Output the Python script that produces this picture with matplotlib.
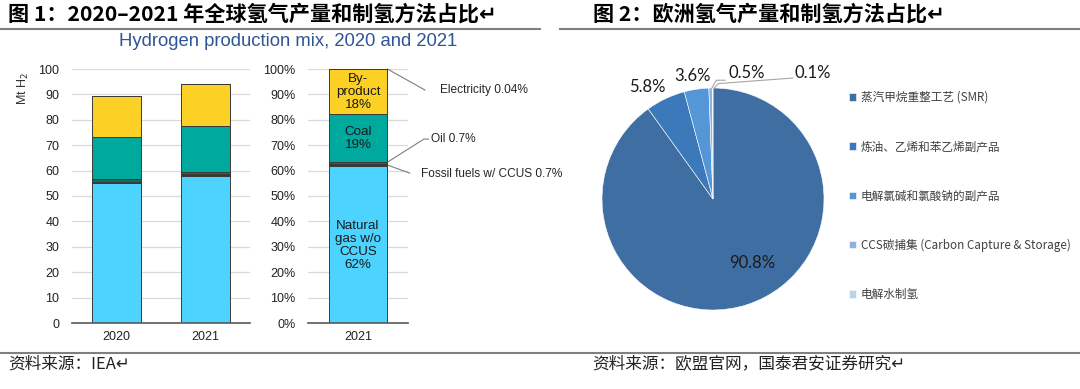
import matplotlib
matplotlib.use('Agg')
import matplotlib.pyplot as plt
import numpy as np

plt.rcParams['font.family'] = ['Liberation Sans', 'Noto Sans CJK SC', 'DejaVu Sans']

W, H = 1080, 389

# 图1 左: 全球氢气产量 (Mt H2)
years = ['2020', '2021']
natural_gas = [55.0, 58.0]
fossil_ccus = [0.7, 0.7]
oil = [0.8, 0.9]
coal = [16.8, 18.1]
by_product = [16.0, 16.5]
electricity = [0.03, 0.04]

# 图1 右: 2021 占比 (%)
share_2021 = [61.8, 0.7, 0.7, 19.0, 17.76, 0.04]

# 图2: 欧洲制氢方法占比
eu_labels = ['蒸汽甲烷重整工艺 (SMR)', '炼油、乙烯和苯乙烯副产品', '电解氯碱和氯酸钠的副产品',
             'CCS碳捕集 (Carbon Capture & Storage)', '电解水制氢']
eu_share = [90.8, 5.8, 3.6, 0.5, 0.1]
eu_text = ['90.8%', '5.8%', '3.6%', '0.5%', '0.1%']

seg_colors = ['#4CD3FF', '#203864', '#1D6B5A', '#00A99D', '#FDD026', '#111111']
pie_colors = ['#3F6EA3', '#3C79BA', '#5596D6', '#8FB3E0', '#BCD1EC']


def box(x0, y0, x1, y1):
    return [x0 / W, 1 - y1 / H, (x1 - x0) / W, (y1 - y0) / H]


fig = plt.figure(figsize=(W / 100, H / 100), dpi=100)

# 标题与分隔线
cjk = ['Noto Sans CJK SC', 'DejaVu Sans']
fig.text(8 / W, 1 - 14 / H, '图 1：2020–2021 年全球氢气产量和制氢方法占比↵', family=cjk,
         fontsize=15.2, fontweight='bold', va='center', ha='left')
fig.text(593 / W, 1 - 14 / H, '图 2：欧洲氢气产量和制氢方法占比↵', family=cjk,
         fontsize=15.2, fontweight='bold', va='center', ha='left')
fig.add_artist(plt.Line2D([0, 540 / W], [1 - 29 / H] * 2, color='#7F7F7F', lw=1.5))
fig.add_artist(plt.Line2D([560 / W, 1], [1 - 29 / H] * 2, color='#7F7F7F', lw=1.5))
fig.add_artist(plt.Line2D([0, 1], [1 - 353 / H] * 2, color='#7F7F7F', lw=1.5))
fig.text(8 / W, 1 - 364 / H, '资料来源：IEA↵', family=cjk, fontsize=12, va='center', color='#222222')
fig.text(592 / W, 1 - 364 / H, '资料来源：欧盟官网，国泰君安证券研究↵', family=cjk, fontsize=12,
         va='center', color='#222222')

fig.text(288 / W, 1 - 42 / H, 'Hydrogen production mix, 2020 and 2021', fontsize=13.3,
         color='#2F5597', ha='center', va='center')

# 左图: 产量堆叠柱
ax1 = fig.add_axes(box(72, 69, 250, 323))
stack = [natural_gas, fossil_ccus, oil, coal, by_product, electricity]
x = np.arange(len(years))
bottom = np.zeros(len(years))
for vals, c in zip(stack, seg_colors):
    ax1.bar(x, vals, 0.56, bottom=bottom, color=c, edgecolor='#3A3A3A', linewidth=0.7, zorder=3)
    bottom += np.array(vals)
ax1.set_xlim(-0.5, 1.5)
ax1.set_ylim(0, 100)
ax1.set_yticks(np.arange(0, 101, 10))
ax1.set_xticks(x)
ax1.set_xticklabels(years)
ax1.text(-0.27, 0.925, 'Mt H$_2$', transform=ax1.transAxes, rotation=90, fontsize=9,
         ha='center', va='center', color='#333333')

# 右图: 2021 占比
ax2 = fig.add_axes(box(308, 69, 408, 323))
b = 0
for v, c in zip(share_2021, seg_colors):
    ax2.bar(0, v, 1.0, bottom=b, color=c, edgecolor='#3A3A3A', linewidth=0.7, zorder=3)
    b += v
ax2.set_xlim(-0.85, 0.85)
ax2.set_ylim(0, 100)
ax2.set_yticks(np.arange(0, 101, 10))
ax2.set_yticklabels([f'{v}%' for v in range(0, 101, 10)])
ax2.set_xticks([0])
ax2.set_xticklabels(['2021'])

for ax in (ax1, ax2):
    for s in ('top', 'right', 'left'):
        ax.spines[s].set_visible(False)
    ax.spines['bottom'].set_color('#595959')
    ax.spines['bottom'].set_linewidth(1.2)
    ax.spines['bottom'].set_zorder(4)
    ax.grid(axis='y', color='#D9D9D9', lw=0.9, zorder=0)
    ax.tick_params(length=0, labelsize=9, colors='#222222')
    ax.tick_params(axis='y', pad=9)
    ax.tick_params(axis='x', pad=6)

txt = dict(ha='center', va='center', fontsize=9.6, color='#1A1A1A', linespacing=1.08, zorder=5)
ax2.text(0, 91, 'By-\nproduct\n18%', **txt)
ax2.text(0, 72.5, 'Coal\n19%', **txt)
ax2.text(0, 30.5, 'Natural\ngas w/o\nCCUS\n62%', **txt)

lc = '#7F7F7F'
ax2.plot([0.5, 1.14], [100, 91.7], color=lc, lw=0.8, clip_on=False)
ax2.text(1.39, 91.7, 'Electricity 0.04%', fontsize=8.6, va='center', color='#262626')
ax2.plot([0.5, 1.12, 1.2], [63.3, 72.4, 72.4], color=lc, lw=0.8, clip_on=False)
ax2.text(1.24, 72.4, 'Oil 0.7%', fontsize=8.6, va='center', color='#262626')
ax2.plot([0.5, 0.88], [62.2, 59.0], color=lc, lw=0.8, clip_on=False)
ax2.text(1.07, 58.6, 'Fossil fuels w/ CCUS 0.7%', fontsize=8.6, va='center', color='#262626')

# 图2: 饼图
ax3 = fig.add_axes(box(602, 88, 824, 310))
wedges, _ = ax3.pie(eu_share, colors=pie_colors, startangle=90, counterclock=False,
                    wedgeprops=dict(edgecolor='white', linewidth=0.4))
ax3.set_xlim(-1, 1)
ax3.set_ylim(-1, 1)
ax3.set_aspect('equal')
ax3.axis('off')

lab = dict(ha='center', va='center', fontsize=12, family='Lato', color='#1A1A1A')
ax3.text(0.35, -0.58, eu_text[0], **lab)
ax3.text(-0.59, 1.01, eu_text[1], **lab)
ax3.text(-0.18, 1.11, eu_text[2], **lab)
ax3.text(0.30, 1.135, eu_text[3], **lab)
ax3.text(0.90, 1.135, eu_text[4], **lab)
ax3.plot([-0.01, 0.03, 0.11], [1.0, 1.07, 1.07], color='#A6A6A6', lw=0.8, clip_on=False)
ax3.plot([0.01, 0.05, 0.72], [1.0, 1.04, 1.09], color='#A6A6A6', lw=0.8, clip_on=False)

fig.legend(wedges, eu_labels, loc='upper left', bbox_to_anchor=(849 / W, 1 - 91 / H),
           frameon=False, prop={'family': cjk, 'size': 8.4}, labelcolor='#404040',
           handlelength=0.6, handleheight=0.6, handletextpad=0.4, labelspacing=3.1,
           borderpad=0, borderaxespad=0)

fig.savefig('out.png', dpi=100)
